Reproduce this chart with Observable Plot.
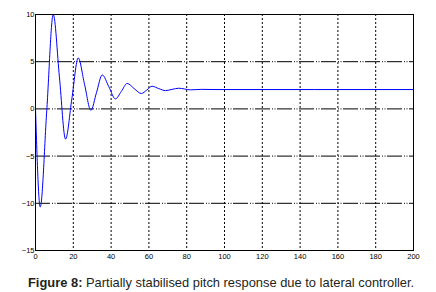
<!DOCTYPE html>
<html>
<head>
<meta charset="utf-8">
<script src="https://cdn.jsdelivr.net/npm/d3@7"></script>
<script src="https://cdn.jsdelivr.net/npm/@observablehq/plot@0.6"></script>
<style>
  html, body { margin: 0; padding: 0; background: #fff; }
  #wrap { position: relative; width: 436px; height: 292px; overflow: hidden; }
  #chart { position: absolute; left: 0; top: 0; }
  #caption { position: absolute; left: 28px; top: 274.5px; width: 408px; font-family: "Liberation Sans", Arial, sans-serif; font-size: 12.9px; line-height: 15px; color: #231f20; white-space: nowrap; }
  #caption b { font-weight: bold; }
</style>
</head>
<body>
<div id="wrap">
  <div id="chart"></div>
  <div id="caption"><b>Figure 8:</b> Partially stabilised pitch response due to lateral controller.</div>
</div>
<script>
// Time (s): extrema and the midpoints between them
const time  = [0, 2.5, 5.95, 9.4, 12.65, 15.9, 19.25, 22.6, 25.95, 29.3, 32.3, 35.3, 38.8, 42.3, 45.4, 48.5, 52.2, 56, 58.9, 61.7, 65.2, 68.8, 72.3, 75.8, 82, 88, 95, 200];
// Pitch response
const pitch = [0, -10.4, -0.2, 10, 3.4, -3.2, 1.1, 5.4, 2.6, -0.15, 1.75, 3.6, 2.35, 1.06, 1.85, 2.7, 2.15, 1.63, 2.0, 2.4, 2.15, 1.94, 2.07, 2.19, 2.02, 2.07, 2.05, 2.05];

const xTicks = [0, 20, 40, 60, 80, 100, 120, 140, 160, 180, 200];
const yTicks = [-15, -10, -5, 0, 5, 10];
const xGrid = [20, 40, 60, 80, 100, 120, 140, 160, 180];
const yGrid = [-10, -5, 0, 5];

const data = time.map((t, i) => ({t, y: pitch[i]}));

const chart = Plot.plot({
  width: 436,
  height: 262,
  marginLeft: 35,
  marginRight: 23,
  marginTop: 14,
  marginBottom: 12,
  style: {fontFamily: "'Liberation Sans', Arial, sans-serif", fontSize: "7.5px", color: "#000", background: "#fff"},
  x: {domain: [0, 200], ticks: xTicks, tickSize: 0, tickPadding: 3, label: null},
  y: {domain: [-15, 10], ticks: yTicks, tickSize: 0, tickPadding: 1, label: null},
  marks: [
    Plot.ruleY(yGrid, {stroke: "#000", strokeWidth: 1, strokeDasharray: "15,2,1,1.5,1,1.5"}),
    Plot.ruleX(xGrid, {stroke: "#000", strokeWidth: 1, strokeDasharray: "2,2"}),
    Plot.line(data, {x: "t", y: "y", stroke: "#0000ff", strokeWidth: 1, curve: "monotone-x"}),
    Plot.frame({stroke: "#000", strokeWidth: 1})
  ]
});
document.getElementById("chart").appendChild(chart);
</script>
</body>
</html>
